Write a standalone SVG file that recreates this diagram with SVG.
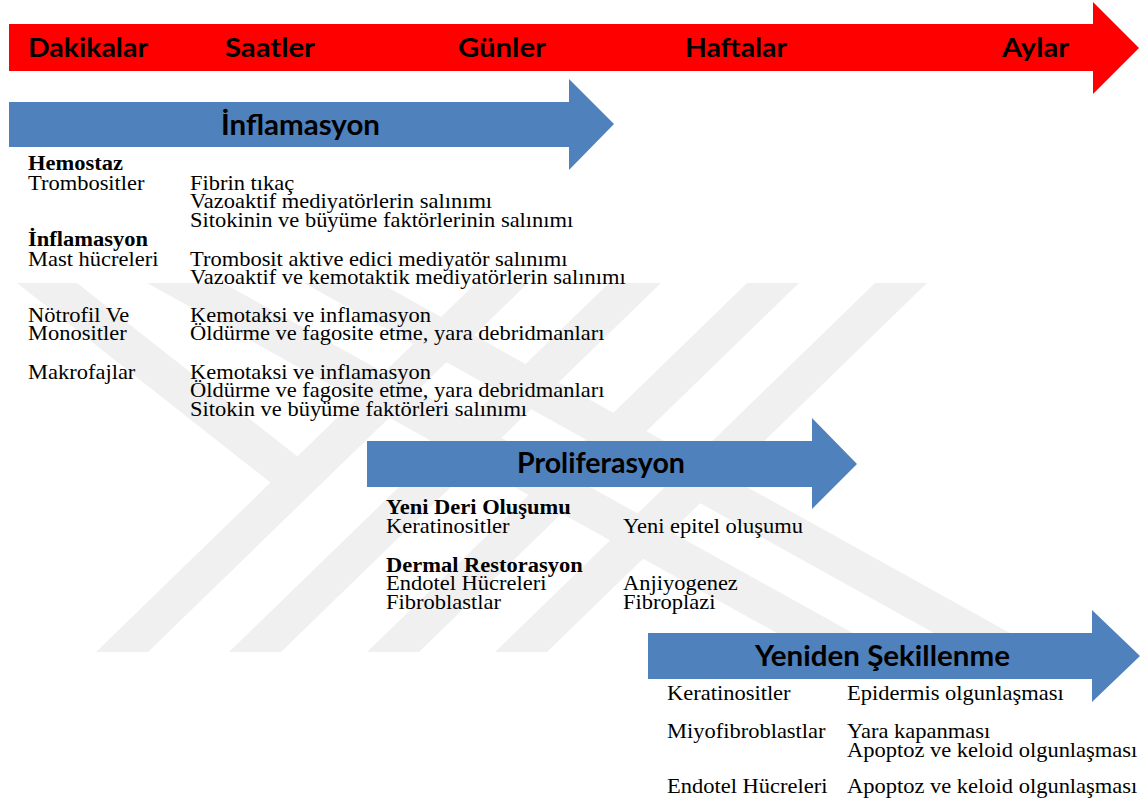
<svg xmlns="http://www.w3.org/2000/svg" width="1144" height="805" viewBox="0 0 1144 805">
<style>
.wm{fill:#f0f0f0}
.red{fill:#ff0000}
.blue{fill:#4f81bd}
.tl{font-family:Lato,"Liberation Sans",sans-serif;font-weight:700;font-size:26px;fill:#000}
.al{font-family:Lato,"Liberation Sans",sans-serif;font-weight:700;font-size:28px;fill:#000}
.s{font-family:"Liberation Serif","Times New Roman",serif;font-size:20px;fill:#000}
.b{font-weight:700}
</style>
<rect width="1144" height="805" fill="#ffffff"/>
<g id="watermark">
<polygon class="wm" points="96,652 148,652 528,283 476,283"/>
<polygon class="wm" points="229,652 281,652 661,283 609,283"/>
<polygon class="wm" points="367,652 419,652 799,283 747,283"/>
<polygon class="wm" points="495,652 547,652 927,283 875,283"/>
<polygon class="wm" points="17,283 77,283 326,479 271,483"/>
<polygon class="wm" points="147,283 223,283 887,652 811,652"/>
<polygon class="wm" points="304,283 380,283 1044,652 968,652"/>
</g>
<g id="timeline">
<polygon class="red" points="9,24 1093,24 1093,2 1139,48 1093,94 1093,71 9,71"/>
<text class="tl" x="28" y="57" textLength="120" lengthAdjust="spacingAndGlyphs">Dakikalar</text>
<text class="tl" x="225" y="57" textLength="90" lengthAdjust="spacingAndGlyphs">Saatler</text>
<text class="tl" x="458" y="57" textLength="88" lengthAdjust="spacingAndGlyphs">Günler</text>
<text class="tl" x="685" y="57" textLength="102" lengthAdjust="spacingAndGlyphs">Haftalar</text>
<text class="tl" x="1002" y="57" textLength="67" lengthAdjust="spacingAndGlyphs">Aylar</text>
</g>
<g id="phase-inflamasyon">
<polygon class="blue" points="9,102 569,102 569,79 614,124 569,170 569,147 9,147"/>
<text class="al" x="221" y="135" textLength="159" lengthAdjust="spacingAndGlyphs">İnflamasyon</text>
</g>
<g id="inflamasyon-details">
<g transform="translate(28,0) scale(1.125,1)">
<text class="s b" x="0" y="170">Hemostaz</text>
<text class="s" x="0" y="190">Trombositler</text>
<text class="s b" x="0" y="246">İnflamasyon</text>
<text class="s" x="0" y="266">Mast hücreleri</text>
<text class="s" x="0" y="322">Nötrofil Ve</text>
<text class="s" x="0" y="340">Monositler</text>
<text class="s" x="0" y="379">Makrofajlar</text>
</g>
<g transform="translate(190,0) scale(1.125,1)">
<text class="s" x="0" y="190">Fibrin tıkaç</text>
<text class="s" x="0" y="208">Vazoaktif mediyatörlerin salınımı</text>
<text class="s" x="0" y="227">Sitokinin ve büyüme faktörlerinin salınımı</text>
<text class="s" x="0" y="266">Trombosit aktive edici mediyatör salınımı</text>
<text class="s" x="0" y="284">Vazoaktif ve kemotaktik mediyatörlerin salınımı</text>
<text class="s" x="0" y="322">Kemotaksi ve inflamasyon</text>
<text class="s" x="0" y="340">Öldürme ve fagosite etme, yara debridmanları</text>
<text class="s" x="0" y="379">Kemotaksi ve inflamasyon</text>
<text class="s" x="0" y="397">Öldürme ve fagosite etme, yara debridmanları</text>
<text class="s" x="0" y="416">Sitokin ve büyüme faktörleri salınımı</text>
</g>
</g>
<g id="phase-proliferasyon">
<polygon class="blue" points="367,441 812,441 812,418 857,464 812,509 812,487 367,487"/>
<text class="al" x="517" y="473" textLength="168" lengthAdjust="spacingAndGlyphs">Proliferasyon</text>
</g>
<g id="proliferasyon-details">
<g transform="translate(386,0) scale(1.125,1)">
<text class="s b" x="0" y="514">Yeni Deri Oluşumu</text>
<text class="s" x="0" y="533">Keratinositler</text>
<text class="s b" x="0" y="572">Dermal Restorasyon</text>
<text class="s" x="0" y="590">Endotel Hücreleri</text>
<text class="s" x="0" y="609">Fibroblastlar</text>
</g>
<g transform="translate(623,0) scale(1.125,1)">
<text class="s" x="0" y="533">Yeni epitel oluşumu</text>
<text class="s" x="0" y="590">Anjiyogenez</text>
<text class="s" x="0" y="609">Fibroplazi</text>
</g>
</g>
<g id="phase-yeniden-sekillenme">
<polygon class="blue" points="648,633 1092,633 1092,610 1140,656 1092,702 1092,679 648,679"/>
<text class="al" x="755" y="666" textLength="255" lengthAdjust="spacingAndGlyphs">Yeniden Şekillenme</text>
</g>
<g id="yeniden-sekillenme-details">
<g transform="translate(667,0) scale(1.125,1)">
<text class="s" x="0" y="700">Keratinositler</text>
<text class="s" x="0" y="738">Miyofibroblastlar</text>
<text class="s" x="0" y="793">Endotel Hücreleri</text>
</g>
<g transform="translate(847,0) scale(1.125,1)">
<text class="s" x="0" y="700">Epidermis olgunlaşması</text>
<text class="s" x="0" y="738">Yara kapanması</text>
<text class="s" x="0" y="757">Apoptoz ve keloid olgunlaşması</text>
<text class="s" x="0" y="793">Apoptoz ve keloid olgunlaşması</text>
</g>
</g>
<g id="connectors"></g>
</svg>
